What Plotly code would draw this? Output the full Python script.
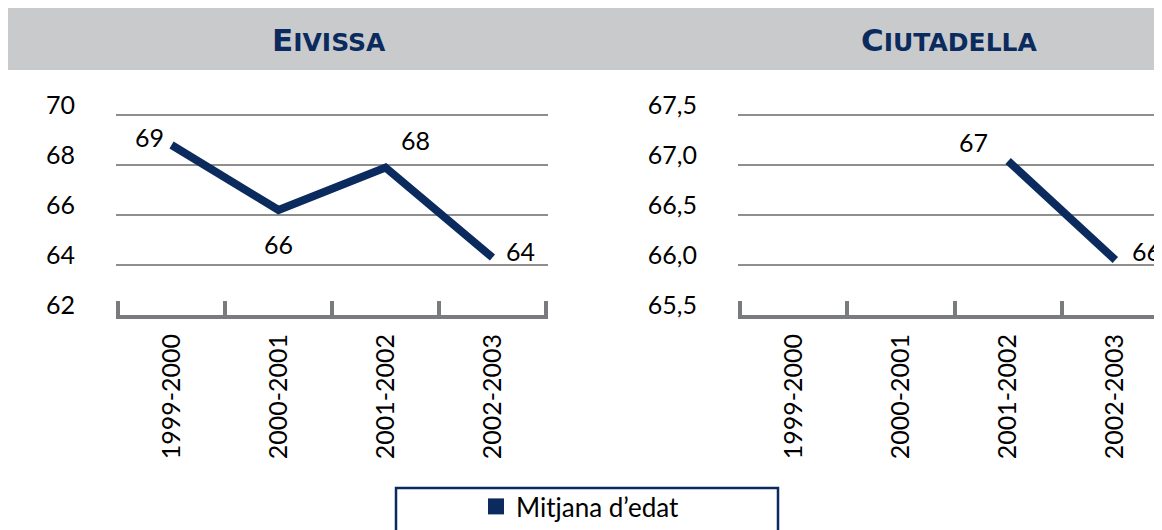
import plotly.graph_objects as go
from plotly.subplots import make_subplots

# data
seasons = ['1999-2000', '2000-2001', '2001-2002', '2002-2003']
eivissa_age = [68.8, 66.2, 67.9, 64.3]
eivissa_text = ['69', '66', '68', '64']
ciutadella_age = [None, None, 67.04, 66.05]
ciutadella_text = ['', '', '67', '66']

navy = '#0b2b5e'
grey_axis = '#7a7b7e'
grey_grid = '#8e8e8e'
font_main = 'Lato'

# page body has an 8px margin, so the figure sits at (8, 8) in the window
W, H = 1154, 522


def px_x(v):
    return (v - 8) / W


def px_y(v):
    return 1 - (v - 8) / H


fig = make_subplots(rows=1, cols=2, horizontal_spacing=0.0)

fig.add_trace(go.Scatter(x=seasons, y=eivissa_age, mode='lines',
                         line=dict(color=navy, width=8), showlegend=False), row=1, col=1)
fig.add_trace(go.Scatter(x=seasons, y=ciutadella_age, mode='lines',
                         line=dict(color=navy, width=8), showlegend=False), row=1, col=2)
# legend-only entry with a square symbol
fig.add_trace(go.Scatter(x=[None], y=[None], mode='markers',
                         marker=dict(symbol='square', size=16, color=navy),
                         name='Mitjana d\u2019edat'), row=1, col=1)

# value labels next to the points
left_shift = [(-22, 8), (0, -34), (30, 28), (28, 7)]
for s, v, t, (dx, dy) in zip(seasons, eivissa_age, eivissa_text, left_shift):
    fig.add_annotation(x=s, y=v, xref='x', yref='y', text=t, showarrow=False,
                       xshift=dx, yshift=dy, font=dict(size=25, color='black', family=font_main))
right_shift = [(0, 0), (0, 0), (-35, 19), (31, 9)]
for s, v, t, (dx, dy) in zip(seasons, ciutadella_age, ciutadella_text, right_shift):
    if v is None:
        continue
    fig.add_annotation(x=s, y=v, xref='x2', yref='y2', text=t, showarrow=False,
                       xshift=dx, yshift=dy, font=dict(size=25, color='black', family=font_main))

xcommon = dict(type='category', categoryorder='array', categoryarray=seasons,
               tickangle=-90, ticks='inside', tickson='boundaries', ticklen=14,
               tickwidth=4, tickcolor=grey_axis, showline=True, linewidth=4,
               linecolor=grey_axis, showgrid=False, zeroline=False, automargin=False,
               ticklabelstandoff=5,
               tickfont=dict(size=25, color='black', family=font_main))
ycommon = dict(showgrid=True, gridcolor=grey_grid, gridwidth=2, zeroline=False,
               showline=False, ticks='', automargin=False,
               ticklabelstandoff=40, ticklabelshift=-10,
               tickfont=dict(size=25, color='black', family=font_main))

fig.update_xaxes(xcommon)
fig.update_yaxes(ycommon)
fig.update_xaxes(domain=[px_x(115.9), px_x(548.1)], range=[-0.52, 3.52], row=1, col=1)
fig.update_xaxes(domain=[px_x(737.9), 1.0], range=[-0.52, 3.435], row=1, col=2)
# a hair of headroom above the top tick so its gridline is drawn
fig.update_yaxes(domain=[px_y(315), px_y(113.75)], range=[62, 70.05], tick0=62, dtick=2,
                 row=1, col=1)
fig.update_yaxes(domain=[px_y(315), px_y(113.75)], range=[65.5, 67.5125], tick0=65.5,
                 dtick=0.5, tickformat='.1f', row=1, col=2)

# grey header band and titles
fig.add_shape(type='rect', xref='paper', yref='paper', x0=0, x1=1.0,
              y0=px_y(70), y1=1.0, fillcolor='#c9cacc', line=dict(width=0),
              layer='below')
for first, rest, xc in [('E', 'IVISSA', 329), ('C', 'IUTADELLA', 949)]:
    fig.add_annotation(x=px_x(xc), y=px_y(40), xref='paper', yref='paper',
                       text="<b><span style='font-size:31px'>" + first + '</span>' + rest + '</b>',
                       showarrow=False, xanchor='center', yanchor='middle',
                       font=dict(size=25, color=navy, family='DejaVu Sans'))

# legend frame
fig.add_shape(type='rect', xref='paper', yref='paper', x0=px_x(396), x1=px_x(778),
              y0=-0.05, y1=px_y(488), line=dict(color=navy, width=2.5),
              fillcolor='rgba(0,0,0,0)')

fig.update_layout(
    width=W, height=H,
    margin=dict(l=0, r=0, t=0, b=0, autoexpand=False),
    paper_bgcolor='white', plot_bgcolor='white',
    separators=',.',
    showlegend=True,
    legend=dict(x=px_x(476), y=px_y(483), xanchor='left', yanchor='top',
                xref='container', yref='container',
                orientation='h', bgcolor='rgba(0,0,0,0)',
                font=dict(size=26, color='black', family=font_main)),
)

fig.write_html('out.html')
